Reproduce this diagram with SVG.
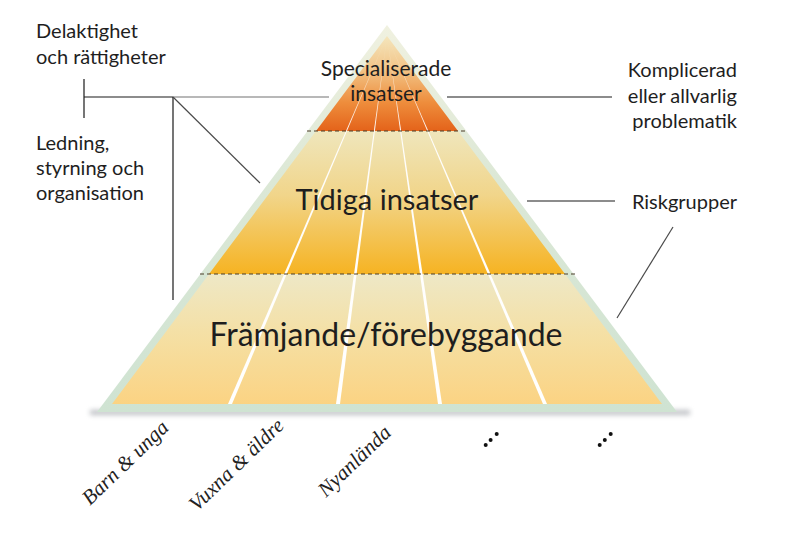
<svg xmlns="http://www.w3.org/2000/svg" width="808" height="538" viewBox="0 0 808 538">
<defs>
<style>
.sans{font-family:Lato,"Open Sans","Liberation Sans",sans-serif;fill:#1e1e1e}
.lbl{font-size:20px}
.tier{text-anchor:middle}
.cat{font-family:"Liberation Serif","DejaVu Serif",serif;font-style:italic;font-size:21px;fill:#222}
.dash{stroke:#4a3c28;stroke-width:1;stroke-dasharray:4 3;fill:none}
.ln{stroke:#1a1a1a;stroke-width:1.2;fill:none}
.ln2{stroke:#4a4a4a;stroke-width:1.2;fill:none}
.lng{stroke:#a0a0a0;stroke-width:1.6;fill:none}
.dot{fill:#111}
</style>
<linearGradient id="gTop" gradientUnits="userSpaceOnUse" x1="0" y1="36" x2="0" y2="131">
<stop offset="0" stop-color="#f4e6bd"/>
<stop offset="0.35" stop-color="#f2c487"/>
<stop offset="0.7" stop-color="#ee8d3c"/>
<stop offset="1" stop-color="#e4631a"/>
</linearGradient>
<linearGradient id="gMid" gradientUnits="userSpaceOnUse" x1="0" y1="131" x2="0" y2="274">
<stop offset="0" stop-color="#efe6bc"/>
<stop offset="0.45" stop-color="#f1d58a"/>
<stop offset="1" stop-color="#f6b322"/>
</linearGradient>
<linearGradient id="gBot" gradientUnits="userSpaceOnUse" x1="0" y1="274" x2="0" y2="404">
<stop offset="0" stop-color="#eee8c6"/>
<stop offset="0.5" stop-color="#f5dfa2"/>
<stop offset="1" stop-color="#fbd383"/>
</linearGradient>
<linearGradient id="gBorder" gradientUnits="userSpaceOnUse" x1="0" y1="25" x2="0" y2="412">
<stop offset="0" stop-color="#f0f1e0"/>
<stop offset="0.4" stop-color="#dce8d6"/>
<stop offset="1" stop-color="#cfe3d2"/>
</linearGradient>
<linearGradient id="gLine" gradientUnits="userSpaceOnUse" x1="0" y1="36" x2="0" y2="404">
<stop offset="0" stop-color="#ffffff" stop-opacity="0"/>
<stop offset="0.12" stop-color="#ffffff" stop-opacity="0.6"/>
<stop offset="0.25" stop-color="#ffffff" stop-opacity="0.95"/>
<stop offset="1" stop-color="#ffffff" stop-opacity="1"/>
</linearGradient>
<filter id="blur" x="-20%" y="-200%" width="140%" height="500%">
<feGaussianBlur stdDeviation="2.5"/>
</filter>
<clipPath id="clipFill">
<polygon points="387,36 662,404 112,404"/>
</clipPath>
</defs>

<g id="pyramid">
<rect x="90" y="410" width="600" height="5" fill="#8a8f96" opacity="0.55" filter="url(#blur)"/>
<polygon points="387,25 677,412 97,412" fill="url(#gBorder)"/>
<g id="tier-top">
<polygon points="387,36 458,131 316,131" fill="url(#gTop)"/>
</g>
<g id="tier-mid">
<polygon points="316,131 458,131 565,274 209,274" fill="url(#gMid)"/>
</g>
<g id="tier-bot">
<polygon points="209,274 565,274 662,404 112,404" fill="url(#gBot)"/>
</g>
<g id="lanes" clip-path="url(#clipFill)" fill="url(#gLine)">
<polygon points="387,36 232,404 228,404"/>
<polygon points="387,36 340,404 336,404"/>
<polygon points="387,36 442,404 438,404"/>
<polygon points="387,36 547,404 543,404"/>
</g>
<line class="dash" x1="307" y1="131" x2="467" y2="131"/>
<line class="dash" x1="200" y1="274" x2="575" y2="274"/>
</g>

<g id="connectors">
<path class="ln" d="M84,79 V118"/>
<path class="ln" d="M84,97 H173"/>
<path class="lng" d="M173,97 H329"/>
<path class="ln" d="M173,97 V300"/>
<path class="ln2" d="M173,97 L260,183"/>
<path class="ln" d="M447,97 H612"/>
<path class="ln" d="M527,201 H615"/>
<path class="ln2" d="M673,227 L617,318"/>
</g>

<g id="node-specialiserade">
<text class="sans tier" font-size="21" x="386" y="76">Specialiserade</text>
<text class="sans tier" font-size="21" x="386" y="101">insatser</text>
</g>
<g id="node-tidiga">
<text class="sans tier" font-size="29" x="387" y="210">Tidiga insatser</text>
</g>
<g id="node-framjande">
<text class="sans tier" font-size="32" x="386" y="346">Främjande/förebyggande</text>
</g>

<g id="node-delaktighet">
<text class="sans lbl" x="36" y="38">Delaktighet</text>
<text class="sans lbl" x="36" y="64">och rättigheter</text>
</g>
<g id="node-ledning">
<text class="sans lbl" x="36" y="150">Ledning,</text>
<text class="sans lbl" x="36" y="175">styrning och</text>
<text class="sans lbl" x="36" y="200">organisation</text>
</g>
<g id="node-komplicerad">
<text class="sans lbl" text-anchor="end" x="737" y="77">Komplicerad</text>
<text class="sans lbl" text-anchor="end" x="737" y="103">eller allvarlig</text>
<text class="sans lbl" text-anchor="end" x="737" y="128">problematik</text>
</g>
<g id="node-riskgrupper">
<text class="sans lbl" text-anchor="end" x="737" y="209">Riskgrupper</text>
</g>

<g id="categories">
<text class="cat" transform="translate(90,506) rotate(-44)">Barn &amp; unga</text>
<text class="cat" transform="translate(197,512) rotate(-44)">Vuxna &amp; äldre</text>
<text class="cat" transform="translate(326,498) rotate(-44)">Nyanlända</text>
<g id="more-1">
<circle class="dot" cx="485.7" cy="445" r="2"/>
<circle class="dot" cx="490.6" cy="440" r="2"/>
<circle class="dot" cx="496.7" cy="434" r="2"/>
</g>
<g id="more-2">
<circle class="dot" cx="599.7" cy="445" r="2"/>
<circle class="dot" cx="604.8" cy="440" r="2"/>
<circle class="dot" cx="610.7" cy="434" r="2"/>
</g>
</g>
</svg>
